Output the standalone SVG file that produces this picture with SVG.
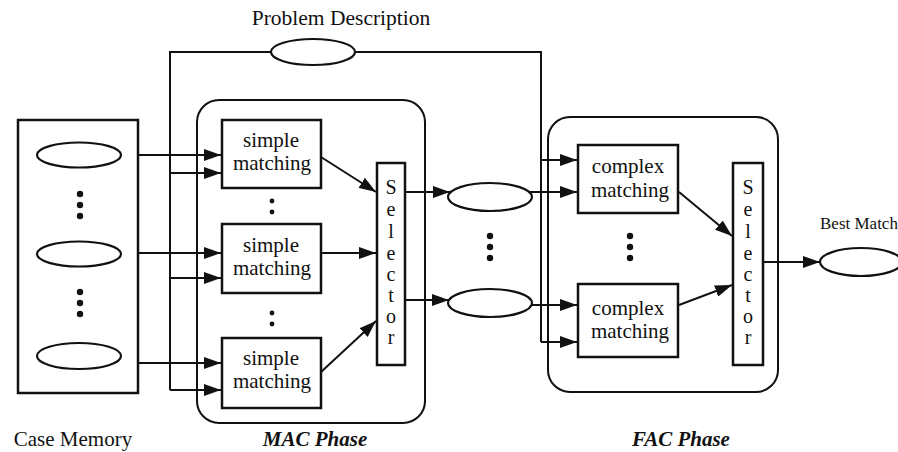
<svg xmlns="http://www.w3.org/2000/svg" width="898" height="452" viewBox="0 0 898 452">
<defs>
<marker id="ah" markerUnits="userSpaceOnUse" markerWidth="17" markerHeight="12" refX="17" refY="6" orient="auto">
<path d="M0,0 L17,6 L0,12 z" fill="#111"/>
</marker>
</defs>
<style>
.s{fill:none;stroke:#111;stroke-width:2}
.a{fill:none;stroke:#111;stroke-width:2;marker-end:url(#ah)}
.b{fill:#fff;stroke:#111;stroke-width:2.5}
.e{fill:#fff;stroke:#111;stroke-width:2.2}
.t{font-family:"Liberation Serif","Times New Roman",serif;font-size:21px;fill:#111}
.v{font-family:"Liberation Serif","Times New Roman",serif;font-size:20px;fill:#111;text-anchor:middle}
.c{text-anchor:middle}
.bi{font-weight:bold;font-style:italic}
.d{fill:#111}
</style>
<rect width="898" height="452" fill="#fff"/>

<g id="mac-phase">
<rect x="197" y="100" width="228" height="323" rx="22" class="s" stroke-width="2.5"/>
<text x="315" y="446" class="t c bi">MAC Phase</text>
</g>
<g id="fac-phase">
<rect x="548" y="117" width="230" height="275" rx="22" class="s" stroke-width="2.5"/>
<text x="681" y="446" class="t c bi">FAC Phase</text>
</g>

<g id="connectors">
<path class="s" d="M170,390 L170,52 L541,52 L541,342"/>
<line class="a" x1="170" y1="173" x2="221" y2="173"/>
<line class="a" x1="170" y1="278" x2="221" y2="278"/>
<line class="a" x1="170" y1="390" x2="221" y2="390"/>
<line class="a" x1="120" y1="155" x2="221" y2="155"/>
<line class="a" x1="120" y1="253" x2="221" y2="253"/>
<line class="a" x1="114" y1="363" x2="221" y2="363"/>
<line class="a" x1="321" y1="157" x2="376" y2="192"/>
<line class="a" x1="321" y1="253" x2="376" y2="253"/>
<line class="a" x1="321" y1="372" x2="376" y2="321"/>
<line class="a" x1="405" y1="192" x2="450" y2="192"/>
<line class="a" x1="405" y1="300" x2="449" y2="300"/>
<line class="a" x1="530" y1="192" x2="577" y2="192"/>
<line class="a" x1="531" y1="305" x2="577" y2="305"/>
<line class="a" x1="541" y1="160" x2="577" y2="160"/>
<line class="a" x1="541" y1="342" x2="577" y2="342"/>
<line class="a" x1="679" y1="192" x2="732" y2="236"/>
<line class="a" x1="679" y1="305" x2="732" y2="285"/>
<line class="a" x1="763" y1="262" x2="820" y2="262"/>
</g>

<g id="problem-description">
<ellipse cx="313" cy="52" rx="42" ry="13" class="e"/>
<text x="341" y="25" class="t c" style="font-size:21.5px">Problem Description</text>
</g>

<g id="case-memory">
<rect x="18" y="120" width="120" height="273" class="b" fill="none"/>
<ellipse cx="79" cy="155" rx="42" ry="12.5" class="e"/>
<ellipse cx="79" cy="254" rx="42" ry="12.5" class="e"/>
<ellipse cx="79" cy="356" rx="42" ry="13" class="e"/>
<circle cx="80" cy="194" r="3.2" class="d"/><circle cx="80" cy="205" r="3.2" class="d"/><circle cx="80" cy="216" r="3.2" class="d"/>
<circle cx="80" cy="292" r="3.2" class="d"/><circle cx="80" cy="303" r="3.2" class="d"/><circle cx="80" cy="314" r="3.2" class="d"/>
<text x="73" y="446" class="t c">Case Memory</text>
</g>

<g id="simple1">
<rect x="222" y="120" width="99" height="68" class="b"/>
<text x="271" y="147" class="t c">simple</text>
<text x="272" y="170" class="t c">matching</text>
</g>
<circle cx="272" cy="201" r="2.4" class="d"/><circle cx="272" cy="212" r="2.4" class="d"/>
<g id="simple2">
<rect x="222" y="224" width="99" height="69" class="b"/>
<text x="271" y="252" class="t c">simple</text>
<text x="272" y="275" class="t c">matching</text>
</g>
<circle cx="272" cy="313" r="2.4" class="d"/><circle cx="272" cy="324" r="2.4" class="d"/>
<g id="simple3">
<rect x="222" y="338" width="99" height="70" class="b"/>
<text x="271" y="365" class="t c">simple</text>
<text x="272" y="388" class="t c">matching</text>
</g>

<g id="selector1">
<rect x="377" y="163" width="28" height="202" class="b"/>
<text class="v"><tspan x="391" y="194">S</tspan><tspan x="391" y="216">e</tspan><tspan x="391" y="238">l</tspan><tspan x="391" y="260">e</tspan><tspan x="391" y="281">c</tspan><tspan x="391" y="302">t</tspan><tspan x="391" y="323">o</tspan><tspan x="391" y="344">r</tspan></text>
</g>

<g id="candidate1"><ellipse cx="490" cy="197" rx="42" ry="14" class="e"/></g>
<g id="candidate2"><ellipse cx="490" cy="303" rx="42" ry="14" class="e"/></g>
<circle cx="490" cy="236" r="3.2" class="d"/><circle cx="490" cy="247" r="3.2" class="d"/><circle cx="490" cy="258" r="3.2" class="d"/>

<g id="complex1">
<rect x="578" y="145" width="100" height="68" class="b"/>
<text x="628" y="173" class="t c">complex</text>
<text x="630" y="197" class="t c">matching</text>
</g>
<circle cx="630" cy="236" r="3.2" class="d"/><circle cx="630" cy="247" r="3.2" class="d"/><circle cx="630" cy="258" r="3.2" class="d"/>
<g id="complex2">
<rect x="578" y="284" width="100" height="73" class="b"/>
<text x="628" y="315" class="t c">complex</text>
<text x="630" y="338" class="t c">matching</text>
</g>

<g id="selector2">
<rect x="733" y="163" width="30" height="202" class="b"/>
<text class="v"><tspan x="748" y="194">S</tspan><tspan x="748" y="216">e</tspan><tspan x="748" y="238">l</tspan><tspan x="748" y="260">e</tspan><tspan x="748" y="281">c</tspan><tspan x="748" y="302">t</tspan><tspan x="748" y="323">o</tspan><tspan x="748" y="344">r</tspan></text>
</g>

<g id="best-match">
<ellipse cx="861" cy="262" rx="41" ry="14" class="e"/>
<text x="820" y="229" class="t" style="font-size:17px">Best Match</text>
</g>
</svg>
